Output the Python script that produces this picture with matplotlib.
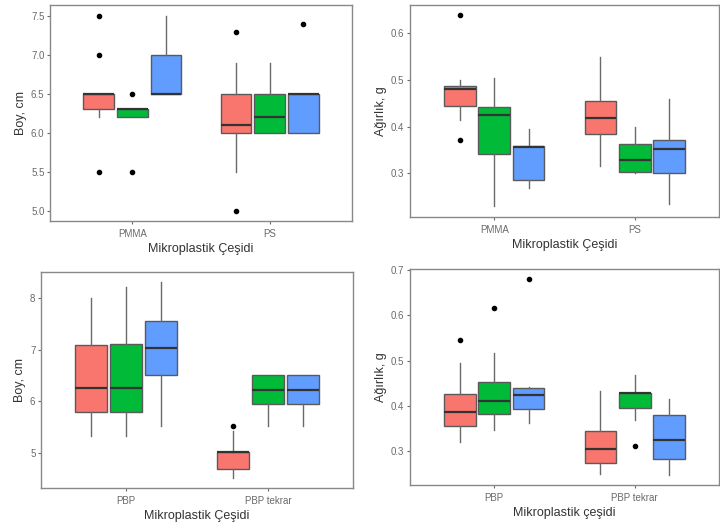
import matplotlib
matplotlib.use("Agg")
import matplotlib.pyplot as plt

plt.rcParams['font.family'] = ['Liberation Sans', 'DejaVu Sans']

W, H = 720, 523
colors = ['#F8766D', '#00BA38', '#619CFF']

# ---- Panel 1: Boy, cm (PMMA, PS)
p1_cats = ['PMMA', 'PS']
p1_q1 = [[6.3, 6.2, 6.5], [6.0, 6.0, 6.0]]
p1_med = [[6.5, 6.3, 6.5], [6.1, 6.2, 6.5]]
p1_q3 = [[6.5, 6.3, 7.0], [6.5, 6.5, 6.5]]
p1_lo = [[6.2, 6.2, 6.5], [5.5, 6.0, 6.0]]
p1_hi = [[6.5, 6.3, 7.5], [6.9, 6.9, 6.5]]
p1_out = [[[7.5, 7.0, 5.5], [6.5, 5.5], []], [[7.3, 5.0], [], [7.4]]]
p1_yticks = [5.0, 5.5, 6.0, 6.5, 7.0, 7.5]
p1_yticklabels = ['5.0', '5.5', '6.0', '6.5', '7.0', '7.5']

# ---- Panel 2: Ağırlık, g (PMMA, PS)
p2_cats = ['PMMA', 'PS']
p2_q1 = [[0.445, 0.342, 0.287], [0.385, 0.304, 0.302]]
p2_med = [[0.480, 0.425, 0.357], [0.419, 0.329, 0.353]]
p2_q3 = [[0.486, 0.442, 0.358], [0.455, 0.364, 0.372]]
p2_lo = [[0.415, 0.230, 0.270], [0.315, 0.302, 0.234]]
p2_hi = [[0.500, 0.503, 0.395], [0.549, 0.400, 0.460]]
p2_out = [[[0.638, 0.371], [], []], [[], [], []]]
p2_yticks = [0.3, 0.4, 0.5, 0.6]
p2_yticklabels = ['0.3', '0.4', '0.5', '0.6']

# ---- Panel 3: Boy, cm (PBP, PBP tekrar)
p3_cats = ['PBP', 'PBP tekrar']
p3_q1 = [[5.79, 5.79, 6.51], [4.68, 5.95, 5.95]]
p3_med = [[6.26, 6.26, 7.02], [5.01, 6.21, 6.21]]
p3_q3 = [[7.08, 7.10, 7.55], [5.01, 6.51, 6.51]]
p3_lo = [[5.32, 5.32, 5.52], [4.52, 5.52, 5.52]]
p3_hi = [[8.00, 8.21, 8.30], [5.42, 6.51, 6.51]]
p3_out = [[[], [], []], [[5.52], [], []]]
p3_yticks = [5, 6, 7, 8]
p3_yticklabels = ['5', '6', '7', '8']

# ---- Panel 4: Ağırlık, g (PBP, PBP tekrar)
p4_cats = ['PBP', 'PBP tekrar']
p4_q1 = [[0.356, 0.383, 0.394], [0.275, 0.396, 0.284]]
p4_med = [[0.386, 0.411, 0.424], [0.306, 0.428, 0.326]]
p4_q3 = [[0.426, 0.454, 0.439], [0.345, 0.429, 0.380]]
p4_lo = [[0.321, 0.347, 0.363], [0.250, 0.370, 0.248]]
p4_hi = [[0.495, 0.516, 0.441], [0.434, 0.469, 0.415]]
p4_out = [[[0.546], [0.615], [0.680]], [[], [0.312], []]]
p4_yticks = [0.3, 0.4, 0.5, 0.6, 0.7]
p4_yticklabels = ['0.3', '0.4', '0.5', '0.6', '0.7']

fig = plt.figure(figsize=(W / 100, H / 100), dpi=100)
fig.patch.set_facecolor('white')


def add_ax(l, r, t, b):
    return fig.add_axes([l / W, 1 - b / H, (r - l) / W, (b - t) / H])


def draw(ax, cats, q1, med, q3, lo, hi, out, yticks, ytl, ylim, ylabel, xlabel):
    offsets = [-0.245, 0.0, 0.245]
    for ci in range(len(cats)):
        for gi in range(3):
            st = dict(med=med[ci][gi], q1=q1[ci][gi], q3=q3[ci][gi],
                      whislo=lo[ci][gi], whishi=hi[ci][gi], fliers=out[ci][gi])
            ax.bxp([st], positions=[ci + 1 + offsets[gi]], widths=0.225,
                   patch_artist=True, showcaps=False, manage_ticks=False,
                   boxprops=dict(facecolor=colors[gi], edgecolor='#5a5a5a', linewidth=1.0),
                   medianprops=dict(color='#333333', linewidth=1.6),
                   whiskerprops=dict(color='#6a6a6a', linewidth=1.0),
                   flierprops=dict(marker='o', markerfacecolor='black',
                                   markeredgecolor='black', markersize=3.0))
    ax.set_xlim(0.4, 2.6)
    ax.set_ylim(*ylim)
    ax.set_xticks([1, 2])
    ax.set_xticklabels(cats)
    ax.set_yticks(yticks)
    ax.set_yticklabels(ytl)
    ax.tick_params(axis='both', labelsize=7, labelcolor='#6a6a6a', color='#6a6a6a',
                   length=2.5, width=0.8, pad=1.5)
    ax.tick_params(axis='x', pad=3)
    for s in ax.spines.values():
        s.set_color('#888888')
        s.set_linewidth(1.0)
    ax.set_ylabel(ylabel, fontsize=9, color='#333333', labelpad=3)
    ax.set_xlabel(xlabel, fontsize=9, color='#333333', labelpad=3)


ax1 = add_ax(50, 352, 5, 221)
draw(ax1, p1_cats, p1_q1, p1_med, p1_q3, p1_lo, p1_hi, p1_out, p1_yticks, p1_yticklabels,
     (4.87, 7.64), 'Boy, cm', 'Mikroplastik Çeşidi')
ax2 = add_ax(410, 719, 5, 217)
draw(ax2, p2_cats, p2_q1, p2_med, p2_q3, p2_lo, p2_hi, p2_out, p2_yticks, p2_yticklabels,
     (0.207, 0.66), 'Ağırlık, g', 'Mikroplastik Çeşidi')
ax3 = add_ax(41, 353, 272, 488)
draw(ax3, p3_cats, p3_q1, p3_med, p3_q3, p3_lo, p3_hi, p3_out, p3_yticks, p3_yticklabels,
     (4.32, 8.50), 'Boy, cm', 'Mikroplastik Çeşidi')
ax4 = add_ax(410, 719, 269, 485)
draw(ax4, p4_cats, p4_q1, p4_med, p4_q3, p4_lo, p4_hi, p4_out, p4_yticks, p4_yticklabels,
     (0.226, 0.702), 'Ağırlık, g', 'Mikroplastik çeşidi')

fig.savefig('out.png', dpi=100)
